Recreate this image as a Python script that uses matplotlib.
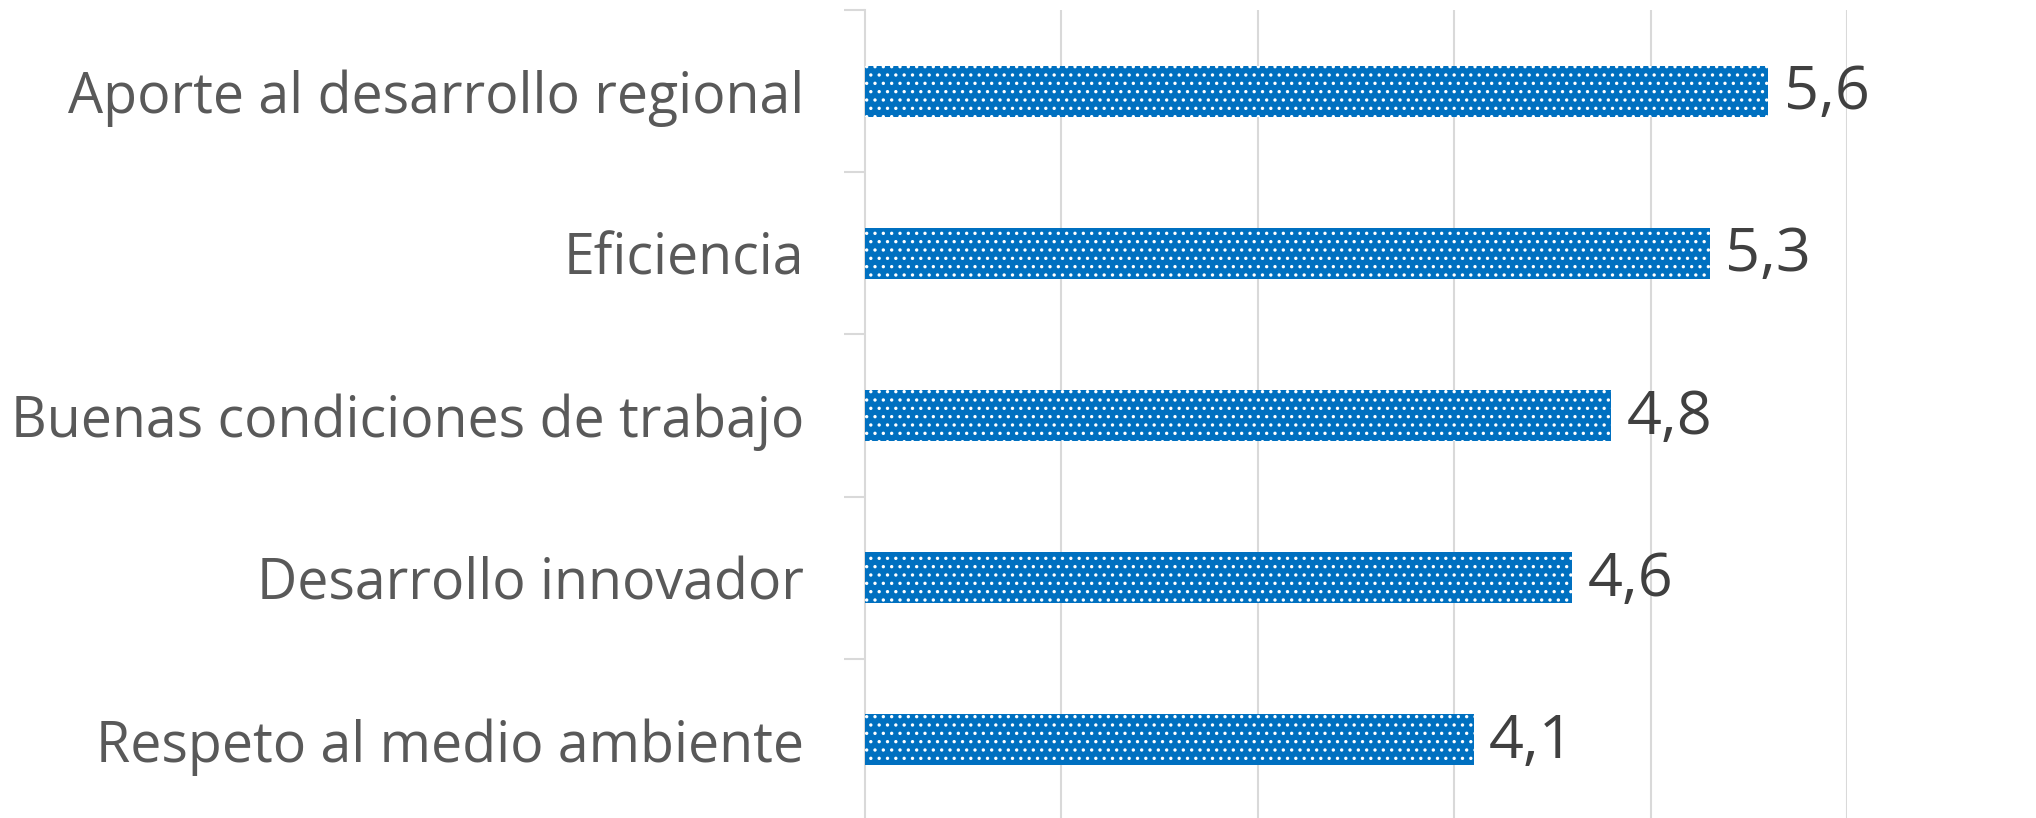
import matplotlib
matplotlib.use("Agg")
import matplotlib.pyplot as plt

categories = ["Aporte al desarrollo regional", "Eficiencia",
              "Buenas condiciones de trabajo", "Desarrollo innovador",
              "Respeto al medio ambiente"]
values = [5.6, 5.3, 4.8, 4.6, 4.1]
value_labels = ["5,6", "5,3", "4,8", "4,6", "4,1"]

plt.rcParams['font.family'] = ['Open Sans', 'DejaVu Sans']
plt.rcParams['hatch.linewidth'] = 1.2

W, H = 2036, 818
fig = plt.figure(figsize=(W/100, H/100), dpi=100)
ax = fig.add_axes([865/W, 1 - 821/H, (1847 - 865)/W, (821 - 10)/H])

blue = '#0070C0'
ypos = list(range(len(categories)))
bars = ax.barh(ypos, [v - 1 for v in values], left=1, height=0.315,
               color=blue, edgecolor='white', hatch='..', linewidth=0, zorder=3)

ax.set_xlim(1, 6)
ax.set_ylim(len(categories) - 0.5, -0.5)
ax.set_xticks([2, 3, 4, 5, 6])
ax.set_xticklabels([])
ax.tick_params(axis='x', length=0)
ax.grid(axis='x', color='#D9D9D9', linewidth=1.5, zorder=0)

ax.set_yticks([i - 0.5 for i in range(len(categories) + 1)], minor=False)
ax.set_yticklabels([])
ax.set_yticks(ypos, minor=True)
ax.set_yticklabels(categories, minor=True, fontsize=40, color='#595959')
ax.tick_params(axis='y', which='major', length=15, width=1.5, color='#D9D9D9')
ax.tick_params(axis='y', which='minor', length=0, pad=44)

for s in ['top', 'right', 'bottom']:
    ax.spines[s].set_visible(False)
ax.spines['left'].set_color('#D9D9D9')
ax.spines['left'].set_linewidth(1.5)

for y, v, lab in zip(ypos, values, value_labels):
    ax.annotate(lab, xy=(v, y), xytext=(11, -1.5), textcoords='offset points',
                va='center', ha='left', fontsize=44, color='#404040')

fig.savefig('out.png', dpi=100)
